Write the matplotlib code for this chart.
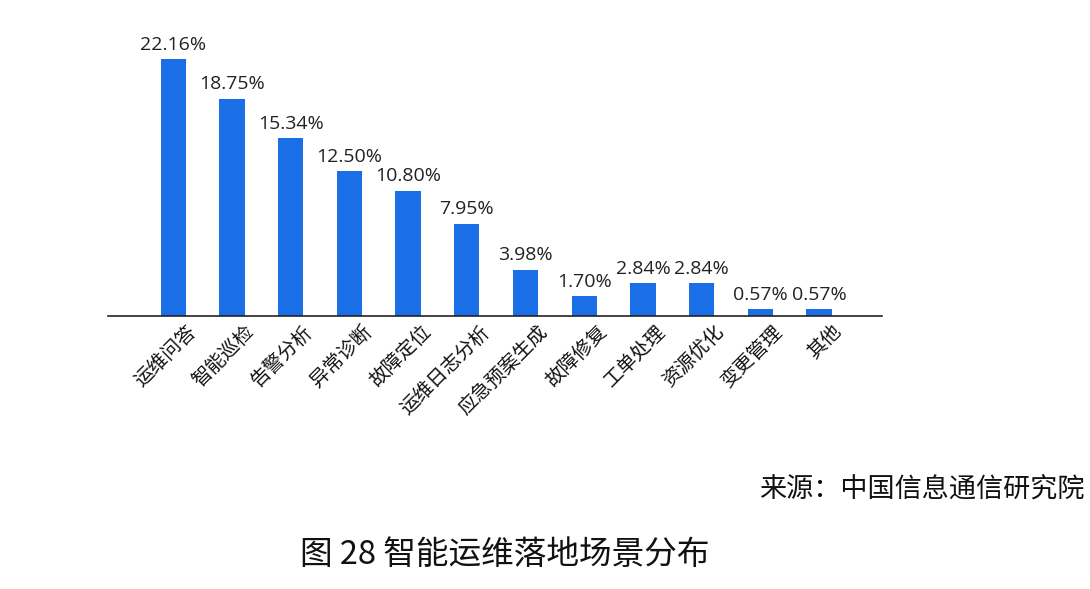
import matplotlib.pyplot as plt
import matplotlib.transforms as mtransforms
import numpy as np

plt.rcParams['font.family'] = ['Noto Sans CJK SC', 'DejaVu Sans']

# data
categories = ["运维问答", "智能巡检", "告警分析", "异常诊断", "故障定位", "运维日志分析",
              "应急预案生成", "故障修复", "工单处理", "资源优化", "变更管理", "其他"]
shares = [22.16, 18.75, 15.34, 12.50, 10.80, 7.95, 3.98, 1.70, 2.84, 2.84, 0.57, 0.57]
source_text = "来源：中国信息通信研究院"
caption = "图 28 智能运维落地场景分布"

fig = plt.figure(figsize=(10.9, 5.89), dpi=100)
ax = fig.add_axes([0.0991, 0.4635, 0.710, 0.472])

x = np.arange(len(categories))
ax.bar(x, shares, width=0.43, color="#1a6fe6")

for xi, v in zip(x, shares):
    ax.annotate(f"{v:.2f}%", (xi, v), xytext=(0, 4), textcoords="offset points",
                ha="center", va="bottom", fontsize=14, color="#222222",
                family=["Open Sans", "DejaVu Sans"])

ax.set_xlim(-1.11, 12.07)
ax.set_ylim(0, 24)
ax.set_yticks([])
ax.set_xticks(x)
ax.set_xticklabels(categories, rotation=45, ha="right", va="center",
                   rotation_mode="anchor", fontsize=14, color="#111111")
ax.tick_params(axis="x", length=0, pad=9)
# nudge the rotated labels a little to the right, as in the original
shift = mtransforms.ScaledTranslation(14 / 72, 0, fig.dpi_scale_trans)
for lab in ax.get_xticklabels():
    lab.set_transform(lab.get_transform() + shift)
for s in ["top", "right", "left"]:
    ax.spines[s].set_visible(False)
ax.spines["bottom"].set_color("#222222")
ax.spines["bottom"].set_linewidth(1.2)

fig.text(0.995, 0.168, source_text, ha="right", va="center", fontsize=19.5, color="#111111")
fig.text(0.275, 0.058, caption, ha="left", va="center", fontsize=23.5, color="#111111")

fig.savefig("out.png", dpi=100)
